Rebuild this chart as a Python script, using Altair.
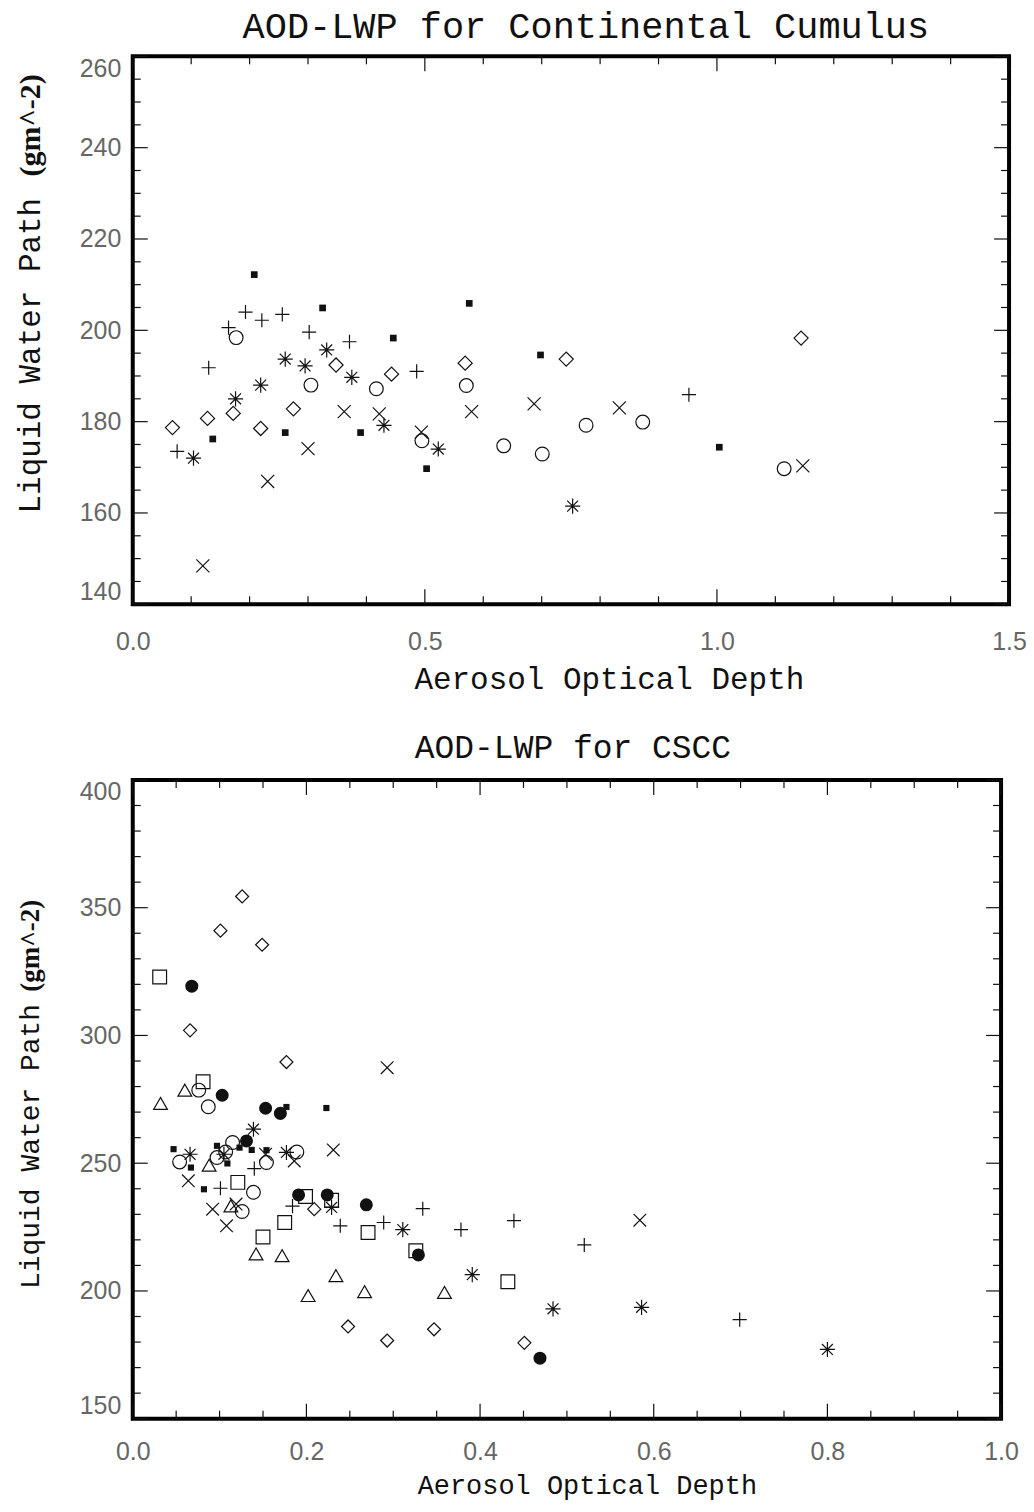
import altair as alt
import pandas as pd

# ---------------- Top panel: Continental Cumulus ----------------
top_sq_x = [0.208, 0.325, 0.446, 0.576, 0.698, 0.137, 0.261, 0.390, 0.503, 1.004]
top_sq_y = [212.2, 204.9, 198.3, 205.9, 194.6, 176.2, 177.6, 177.6, 169.7, 174.4]

top_plus_x = [0.076, 0.130, 0.164, 0.193, 0.221, 0.256, 0.302, 0.371, 0.486, 0.952]
top_plus_y = [173.5, 191.8, 200.6, 204.0, 202.2, 203.5, 199.6, 197.5, 191.0, 185.9]

top_circ_x = [0.177, 0.305, 0.417, 0.495, 0.571, 0.635, 0.701, 0.776, 0.873, 1.115]
top_circ_y = [198.4, 188.0, 187.2, 175.8, 187.9, 174.7, 172.9, 179.2, 179.9, 169.7]

top_diam_x = [0.068, 0.128, 0.172, 0.219, 0.275, 0.348, 0.443, 0.569, 0.742, 1.144]
top_diam_y = [178.7, 180.7, 181.8, 178.5, 182.8, 192.4, 190.4, 192.8, 193.7, 198.3]

top_x_x = [0.120, 0.231, 0.300, 0.362, 0.422, 0.494, 0.580, 0.687, 0.833, 1.147]
top_x_y = [148.4, 166.9, 174.1, 182.2, 181.7, 177.7, 182.2, 183.9, 183.0, 170.3]

top_ast_x = [0.104, 0.176, 0.219, 0.261, 0.295, 0.332, 0.375, 0.430, 0.523, 0.753]
top_ast_y = [172.0, 185.0, 188.0, 193.7, 192.2, 195.7, 189.7, 179.2, 174.0, 161.5]

top_x_major = [0.0, 0.5, 1.0, 1.5]
top_x_minor = [0.1, 0.2, 0.3, 0.4, 0.6, 0.7, 0.8, 0.9, 1.1, 1.2, 1.3, 1.4]
top_y_major = [140, 160, 180, 200, 220, 240, 260]
top_y_minor = [145, 150, 155, 165, 170, 175, 185, 190, 195, 205, 210, 215,
               225, 230, 235, 245, 250, 255]

# ---------------- Bottom panel: CSCC ----------------
bot_fsq_x = [0.047, 0.067, 0.082, 0.097, 0.123, 0.137, 0.154, 0.109, 0.177, 0.223]
bot_fsq_y = [255.5, 248.3, 239.8, 256.8, 256.1, 255.2, 255.1, 249.9, 272.0, 271.6]

bot_fcirc_x = [0.068, 0.103, 0.153, 0.170, 0.131, 0.191, 0.224, 0.269, 0.329, 0.469]
bot_fcirc_y = [319.3, 276.6, 271.5, 269.5, 258.7, 237.6, 237.6, 233.7, 214.1, 173.7]

bot_osq_x = [0.031, 0.081, 0.121, 0.150, 0.175, 0.199, 0.229, 0.271, 0.326, 0.432]
bot_osq_y = [322.9, 281.9, 242.5, 221.1, 226.8, 237.0, 235.5, 222.9, 215.7, 203.6]

bot_tri_x = [0.032, 0.060, 0.088, 0.113, 0.142, 0.172, 0.202, 0.234, 0.267, 0.359]
bot_tri_y = [273.4, 278.6, 249.2, 233.3, 214.5, 213.8, 198.2, 206.0, 199.7, 199.4]

bot_diam_x = [0.066, 0.101, 0.126, 0.149, 0.177, 0.209, 0.248, 0.293, 0.347, 0.451]
bot_diam_y = [302.0, 341.0, 354.4, 335.5, 289.6, 232.0, 186.1, 180.6, 185.0, 179.7]

bot_circ_x = [0.054, 0.076, 0.087, 0.097, 0.107, 0.115, 0.126, 0.139, 0.154, 0.189]
bot_circ_y = [250.5, 278.6, 272.1, 252.2, 254.4, 258.1, 231.1, 238.6, 250.3, 254.4]

bot_ast_x = [0.066, 0.105, 0.139, 0.177, 0.229, 0.311, 0.391, 0.484, 0.586, 0.800]
bot_ast_y = [253.5, 253.5, 263.3, 254.2, 232.7, 224.0, 206.4, 193.0, 193.6, 177.1]

bot_plus_x = [0.101, 0.140, 0.184, 0.239, 0.289, 0.334, 0.378, 0.439, 0.520, 0.699]
bot_plus_y = [240.2, 247.9, 233.2, 225.5, 226.8, 232.2, 224.0, 227.5, 218.0, 188.8]

bot_x_x = [0.064, 0.092, 0.108, 0.119, 0.153, 0.186, 0.231, 0.293, 0.584]
bot_x_y = [243.1, 232.0, 225.5, 234.0, 253.5, 250.9, 255.2, 287.4, 227.7]

bot_x_major = [0.0, 0.2, 0.4, 0.6, 0.8, 1.0]
bot_x_minor = [0.05, 0.1, 0.15, 0.25, 0.3, 0.35, 0.45, 0.5, 0.55, 0.65, 0.7,
               0.75, 0.85, 0.9, 0.95]
bot_y_major = [150, 200, 250, 300, 350, 400]
bot_y_minor = [160, 170, 180, 190, 210, 220, 230, 240, 260, 270, 280, 290,
               310, 320, 330, 340, 360, 370, 380, 390]

# ---------------- symbol paths ----------------
PLUS = "M-1,0L1,0M0,-1L0,1"
XSYM = "M-1,-1L1,1M-1,1L1,-1"
AST = "M-1,0L1,0M0,-1L0,1M-0.72,-0.72L0.72,0.72M-0.72,0.72L0.72,-0.72"

MONO = "Liberation Mono"
LABEL_FONT = "Liberation Sans Narrow, Liberation Sans, sans-serif"
INK = "#111111"


def panel(series, xdom, ydom, xmaj, xmin, ymaj, ymin, W, H, xfmt,
          title, title_size, title_dx, title_offset, xtitle_size, xtitle_x,
          xlab_pad, xtitle_pad, ylab_pos, ylab_size, gm_pos, gm_size):
    sx = alt.Scale(domain=xdom, nice=False, zero=False)
    sy = alt.Scale(domain=ydom, nice=False, zero=False)
    ax = alt.Axis(values=xmaj, format=xfmt, ticks=False, domain=False,
                  grid=False, labelFont=LABEL_FONT, labelFontSize=25,
                  labelColor="#666666", labelPadding=xlab_pad,
                  labelFlush=False, labelOverlap=False,
                  title="Aerosol Optical Depth", titleFont=MONO,
                  titleFontSize=xtitle_size, titleFontWeight="normal",
                  titleColor=INK, titlePadding=xtitle_pad, titleX=xtitle_x,
                  titleAnchor="middle", titleAlign="center")
    ay = alt.Axis(values=ymaj, format="d", ticks=False, domain=False,
                  grid=False, labelFont=LABEL_FONT, labelFontSize=25,
                  labelColor="#666666", labelPadding=12, labelFlush=True,
                  labelOverlap=False, title=None)
    X = alt.X("x:Q", scale=sx, axis=ax)
    Y = alt.Y("y:Q", scale=sy, axis=ay)

    layers = []
    # inward ticks on all four sides
    for vals, ln in ((xmaj, 15), (xmin, 8)):
        d = pd.DataFrame({"x": vals})
        layers.append(alt.Chart(d).mark_rule(color=INK, strokeWidth=1.2).encode(
            x=X, y=alt.value(H), y2=alt.value(H - ln)))
        layers.append(alt.Chart(d).mark_rule(color=INK, strokeWidth=1.2).encode(
            x=X, y=alt.value(0), y2=alt.value(ln)))
    for vals, ln in ((ymaj, 15), (ymin, 8)):
        d = pd.DataFrame({"y": vals})
        layers.append(alt.Chart(d).mark_rule(color=INK, strokeWidth=1.2).encode(
            y=Y, x=alt.value(0), x2=alt.value(ln)))
        layers.append(alt.Chart(d).mark_rule(color=INK, strokeWidth=1.2).encode(
            y=Y, x=alt.value(W), x2=alt.value(W - ln)))

    for xs, ys, shape, size, filled in series:
        d = pd.DataFrame({"x": xs, "y": ys})
        if filled:
            m = alt.Chart(d).mark_point(shape=shape, size=size, filled=True,
                                        color=INK, opacity=1, strokeWidth=0)
        else:
            m = alt.Chart(d).mark_point(shape=shape, size=size, filled=False,
                                        color=INK, opacity=1, strokeWidth=1.2)
        layers.append(m.encode(x=X, y=Y))

    one = pd.DataFrame({"t": [0]})
    layers.append(alt.Chart(one).mark_text(
        text="Liquid Water Path", angle=270, align="left", baseline="middle",
        font=MONO, fontSize=ylab_size, color=INK).encode(
        x=alt.value(-102), y=alt.value(ylab_pos)))
    layers.append(alt.Chart(one).mark_text(
        text="(gm^-2)", angle=270, align="right", baseline="middle",
        font="Liberation Serif", fontWeight="bold", fontSize=gm_size,
        color=INK).encode(x=alt.value(-102), y=alt.value(gm_pos)))

    return alt.layer(*layers).properties(
        width=W, height=H,
        title=alt.TitleParams(title, font=MONO, fontSize=title_size,
                              fontWeight="normal", color=INK, frame="group",
                              anchor="middle", dx=title_dx,
                              offset=title_offset))


top = panel(
    [(top_diam_x, top_diam_y, "diamond", 200, False),
     (top_plus_x, top_plus_y, PLUS, 200, False),
     (top_circ_x, top_circ_y, "circle", 190, False),
     (top_x_x, top_x_y, XSYM, 170, False),
     (top_ast_x, top_ast_y, AST, 230, False),
     (top_sq_x, top_sq_y, "square", 45, True)],
    [0, 1.5], [140, 260], top_x_major, top_x_minor, top_y_major, top_y_minor,
    878, 549, ".1f", "AOD-LWP for Continental Cumulus", 37, 15, 10, 31, 477,
    25, 10, 458, 31, 18, 30)

bottom = panel(
    [(bot_diam_x, bot_diam_y, "diamond", 170, False),
     (bot_osq_x, bot_osq_y, "square", 190, False),
     (bot_tri_x, bot_tri_y, "triangle-up", 190, False),
     (bot_circ_x, bot_circ_y, "circle", 190, False),
     (bot_plus_x, bot_plus_y, PLUS, 200, False),
     (bot_x_x, bot_x_y, XSYM, 160, False),
     (bot_ast_x, bot_ast_y, AST, 230, False),
     (bot_fcirc_x, bot_fcirc_y, "circle", 170, True),
     (bot_fsq_x, bot_fsq_y, "square", 38, True)],
    [0, 1.0], [150, 400], bot_x_major, bot_x_minor, bot_y_major, bot_y_minor,
    870, 640, ".1f", "AOD-LWP for CSCC", 33, 6, 14, 27, 455,
    21, 8, 510, 28, 120, 27)

chart = alt.vconcat(top, bottom, spacing=34).properties(
    padding={"left": 12, "top": 4, "right": 5, "bottom": 2},
    background="white",
).configure_view(stroke="black", strokeWidth=4)

chart.save("out.html", embed_options={"renderer": "svg", "actions": False})
